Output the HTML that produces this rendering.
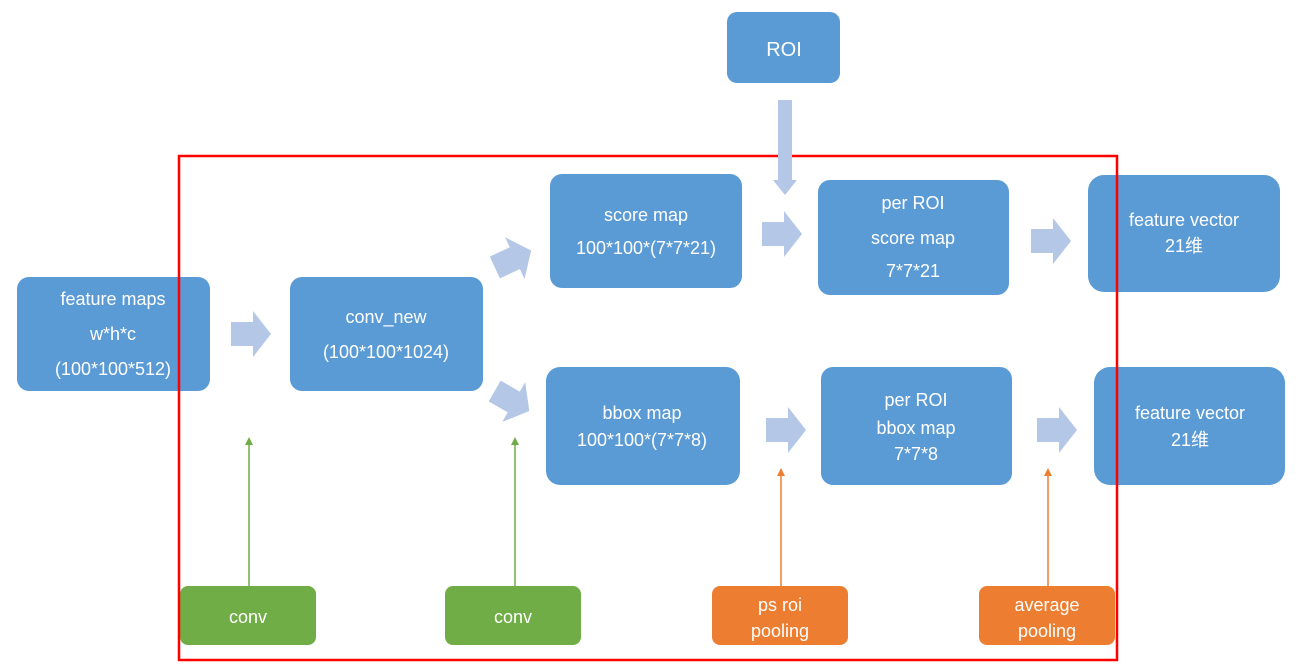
<!DOCTYPE html>
<html><head><meta charset="utf-8"><style>
body{margin:0;background:#fff}
text{font-family:"Liberation Sans","Noto Sans CJK SC",sans-serif;fill:#fff;font-size:18px;text-anchor:middle}
</style></head><body>
<svg width="1302" height="662" xmlns="http://www.w3.org/2000/svg">
<defs>
<path id="ra" d="M0,11 H22 V0 L40,23 L22,46 V35 H0 Z" fill="#B4C7E7"/>
</defs>
<g fill="#5B9BD5">
<rect x="17" y="277" width="193" height="114" rx="12"/>
<rect x="290" y="277" width="193" height="114" rx="12"/>
<rect x="550" y="174" width="192" height="114" rx="12"/>
<rect x="546" y="367" width="194" height="118" rx="14"/>
<rect x="818" y="180" width="191" height="115" rx="12"/>
<rect x="821" y="367" width="191" height="118" rx="12"/>
<rect x="1088" y="175" width="192" height="117" rx="16"/>
<rect x="1094" y="367" width="191" height="118" rx="16"/>
<rect x="727" y="12" width="113" height="71" rx="10"/>
</g>
<rect x="180" y="586" width="136" height="59" rx="8" fill="#70AD47"/>
<rect x="445" y="586" width="136" height="59" rx="8" fill="#70AD47"/>
<rect x="712" y="586" width="136" height="59" rx="8" fill="#ED7D31"/>
<rect x="979" y="586" width="136" height="59" rx="8" fill="#ED7D31"/>
<rect x="179" y="156" width="938" height="504" fill="none" stroke="#f00" stroke-width="2.5"/>
<use href="#ra" transform="translate(231,311)"/>
<use href="#ra" transform="translate(762,211)"/>
<use href="#ra" transform="translate(1031,218)"/>
<use href="#ra" transform="translate(766,407)"/>
<use href="#ra" transform="translate(1037,407)"/>
<use href="#ra" transform="translate(493,236) rotate(-25 20 23)"/>
<use href="#ra" transform="translate(492,378) rotate(30 20 23)"/>
<path d="M778,100 H792 V180 H797 L785,195 L773,180 H778 Z" fill="#B4C7E7"/>
<g stroke-width="1.5">
<line x1="249" y1="586" x2="249" y2="445" stroke="#70AD47"/>
<line x1="515" y1="586" x2="515" y2="445" stroke="#70AD47"/>
<line x1="781" y1="586" x2="781" y2="476" stroke="#ED7D31"/>
<line x1="1048" y1="586" x2="1048" y2="476" stroke="#ED7D31"/>
</g>
<path d="M245,445 L249,437 L253,445Z M511,445 L515,437 L519,445Z" fill="#70AD47"/>
<path d="M777,476 L781,468 L785,476Z M1044,476 L1048,468 L1052,476Z" fill="#ED7D31"/>
<text x="113" y="305">feature maps</text>
<text x="113" y="340">w*h*c</text>
<text x="113" y="375">(100*100*512)</text>
<text x="386" y="323">conv_new</text>
<text x="386" y="358">(100*100*1024)</text>
<text x="646" y="221">score map</text>
<text x="646" y="254">100*100*(7*7*21)</text>
<text x="642" y="419">bbox map</text>
<text x="642" y="446">100*100*(7*7*8)</text>
<text x="913" y="209">per ROI</text>
<text x="913" y="244">score map</text>
<text x="913" y="277">7*7*21</text>
<text x="916" y="406">per ROI</text>
<text x="916" y="434">bbox map</text>
<text x="916" y="460">7*7*8</text>
<text x="1184" y="226">feature vector</text>
<text x="1184" y="252">21维</text>
<text x="1190" y="419">feature vector</text>
<text x="1190" y="446">21维</text>
<text x="784" y="56" style="font-size:20px">ROI</text>
<text x="248" y="623">conv</text>
<text x="513" y="623">conv</text>
<text x="780" y="611">ps roi</text>
<text x="780" y="637">pooling</text>
<text x="1047" y="611">average</text>
<text x="1047" y="637">pooling</text>
</svg>
</body></html>
